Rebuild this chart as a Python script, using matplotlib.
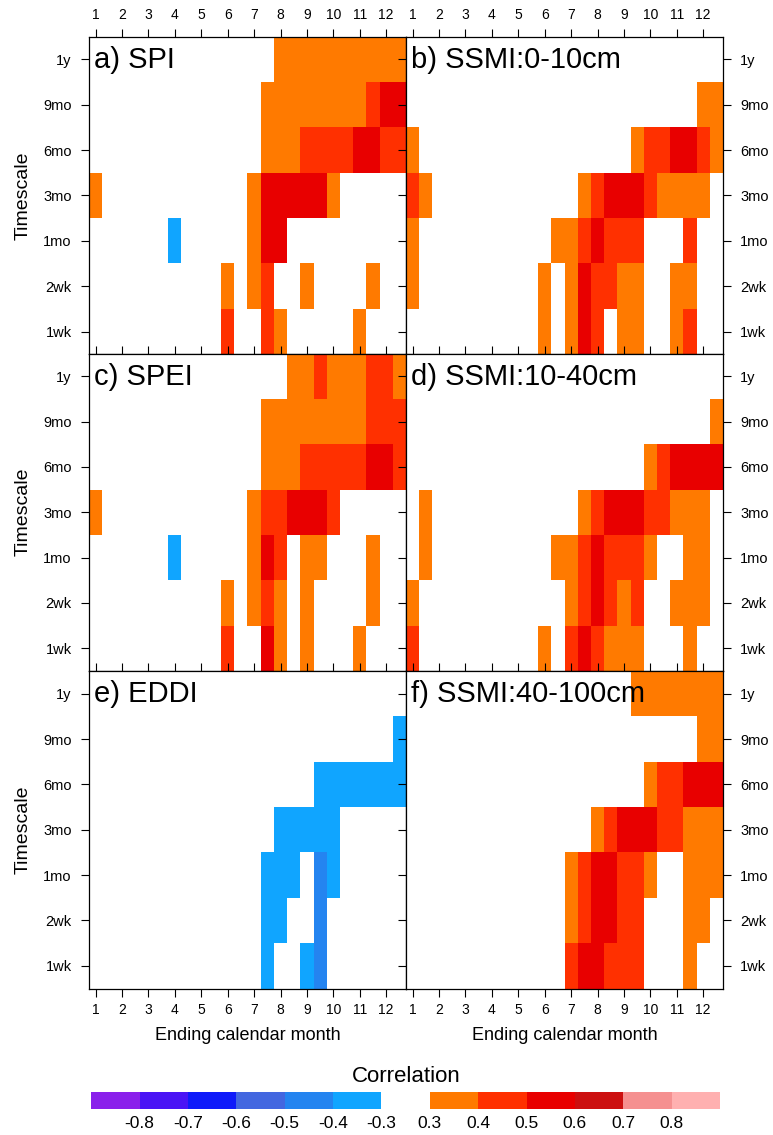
import numpy as np
import matplotlib
matplotlib.use('Agg')
import matplotlib.pyplot as plt
from matplotlib.colors import ListedColormap, BoundaryNorm

plt.rcParams['font.family'] = ['Liberation Sans', 'DejaVu Sans']

months = list(range(1, 13))
timescales = ['1wk', '2wk', '1mo', '3mo', '6mo', '9mo', '1y']
titles = ['a) SPI', 'b) SSMI:0-10cm', 'c) SPEI', 'd) SSMI:10-40cm',
          'e) EDDI', 'f) SSMI:40-100cm']

# correlation class per half-month column (1, 1.5, ..., 12.5), rows from 1y down to 1wk
# '.' not significant, o 0.3-0.4, r 0.4-0.5, R 0.5-0.6, b -0.3..-0.4, B -0.4..-0.5
spi = [
    '..............oooooooooo',
    '.............oooooooorRR',
    '.............ooorrrrRRrr',
    'o...........oRRRRRo.....',
    '......b.....oRR.........',
    '..........o.or..o....o..',
    '..........r..ro.....o...',
]
ssmi_0_10 = [
    '........................',
    '......................oo',
    'o................orrRRro',
    'ro...........orRRRroooo.',
    'o..........oorRrrr...r..',
    'o.........o.oRrroo..oo..',
    '..........o.oRr.oo..or..',
]
spei = [
    '...............oorooorro',
    '.............oooooooorrr',
    '.............ooorrrrrRRr',
    'o...........orrRRRr.....',
    '......b.....oRr.oo...o..',
    '..........o.oro.o....o..',
    '..........r..Ro.o...o...',
]
ssmi_10_40 = [
    '........................',
    '.......................o',
    '..................orRRRR',
    '.o...........orRRRrrooo.',
    '.o.........oorRrrro..oo.',
    'o...........orRror..ooo.',
    'r.........o.rRrooo...o..',
]
eddi = [
    '........................',
    '.......................b',
    '.................bbbbbbb',
    '..............bbbbb.....',
    '.............bbb.Bb.....',
    '.............bb..B......',
    '.............b..bB......',
]
ssmi_40_100 = [
    '.................ooooooo',
    '......................oo',
    '..................orrRRR',
    '..............orRRRrrooo',
    '............orRRrro..ooo',
    '............orRRrr...oo.',
    '............rRRrrr...o..',
]
panels = [spi, ssmi_0_10, spei, ssmi_10_40, eddi, ssmi_40_100]

code_values = {'.': np.nan, 'o': 0.35, 'r': 0.45, 'R': 0.55, 'D': 0.65,
               'b': -0.35, 'B': -0.45}

bounds = [-0.9, -0.8, -0.7, -0.6, -0.5, -0.4, -0.3,
          0.3, 0.4, 0.5, 0.6, 0.7, 0.8, 0.9]
colors = ['#8a20eb', '#4a14f5', '#0f1bfa', '#4367e0', '#2484f0', '#10a5ff',
          '#ffffff',
          '#ff7a00', '#ff3000', '#e80000', '#cc1010', '#f59090', '#ffb0b0']
cb_labels = ['-0.8', '-0.7', '-0.6', '-0.5', '-0.4', '-0.3',
             '0.3', '0.4', '0.5', '0.6', '0.7', '0.8']
cb_ticks = bounds[1:7] + bounds[7:13]

cmap = ListedColormap(colors)
norm = BoundaryNorm(bounds, cmap.N)

W, H = 773, 1135
fig = plt.figure(figsize=(W / 100, H / 100), dpi=100)

lefts = [89 / W, 406 / W]
tops = [36.7, 353.5, 671.0]
pw, ph = 317 / W, 317.5 / H

x_edges = 0.75 + 0.5 * np.arange(25)
y_edges = np.arange(8)

for i, (title, rows) in enumerate(zip(titles, panels)):
    r, c = divmod(i, 2)
    ax = fig.add_axes([lefts[c], 1 - (tops[r] + 317.5) / H, pw, ph])
    grid = np.array([[code_values[ch] for ch in row] for row in rows[::-1]])
    mesh = ax.pcolormesh(x_edges, y_edges, grid, cmap=cmap, norm=norm,
                         antialiased=False)
    ax.set_xlim(0.75, 12.75)
    ax.set_ylim(0, 7)
    ax.set_xticks(months)
    ax.set_yticks(np.arange(7) + 0.5)
    ax.set_yticklabels(timescales)
    ax.tick_params(direction='out', length=6, width=0.8, colors='black',
                   top=True, bottom=(r == 2), left=True, right=(c == 1),
                   labeltop=(r == 0), labelbottom=(r == 2),
                   labelleft=(c == 0), labelright=(c == 1))
    ax.tick_params(axis='x', labelsize=10, pad=4.5)
    ax.tick_params(axis='y', labelsize=10.5, pad=6.5)
    for s in ax.spines.values():
        s.set_linewidth(0.9)
    ax.text(0.016, 0.902, title, transform=ax.transAxes, fontsize=21,
            va='baseline', ha='left')
    if r == 2:
        ax.set_xlabel('Ending calendar month', fontsize=13, labelpad=7)
    if c == 0:
        fig.text(22.7 / W, 1 - (tops[r] + 158.7) / H, 'Timescale',
                 rotation=90, ha='center', va='center', fontsize=14)

cax = fig.add_axes([91.3 / W, 1 - 1109.3 / H, 628.7 / W, 17 / H])
cb = fig.colorbar(mesh, cax=cax, orientation='horizontal', spacing='uniform',
                  ticks=cb_ticks)
cb.set_ticklabels(cb_labels)
cb.outline.set_visible(False)
cax.minorticks_off()
cax.tick_params(which='both', length=0, labelsize=12.5, pad=5)
fig.text(406 / W, 1 - 1077 / H, 'Correlation', ha='center', va='center',
         fontsize=16)

fig.savefig('out.png', dpi=100)
